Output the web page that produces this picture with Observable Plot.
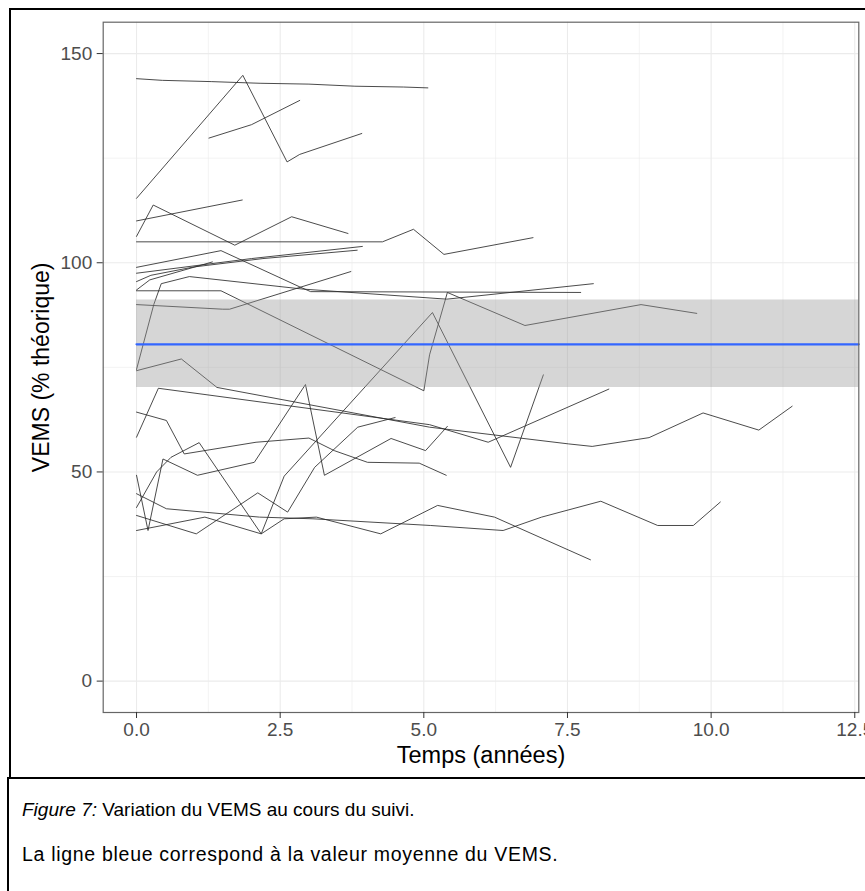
<!DOCTYPE html>
<html><head><meta charset="utf-8">
<script src="https://cdn.jsdelivr.net/npm/d3@7"></script>
<script src="https://cdn.jsdelivr.net/npm/@observablehq/plot@0.6"></script>
<style>
body{margin:0;background:#fff;font-family:"Liberation Sans",Arial,sans-serif;}
#page{position:relative;width:865px;height:891px;overflow:hidden;background:#fff;}
#chart{position:absolute;left:0;top:0;}
#frame{position:absolute;left:9px;top:8px;width:900px;height:769px;border:2px solid #000;pointer-events:none;}
#caption{position:absolute;left:7px;top:777px;width:900px;height:130px;border:2px solid #000;background:#fff;}
.cap{position:absolute;left:13px;font-size:19.5px;line-height:1;color:#000;white-space:nowrap;}
</style>
</head><body>
<div id="page">
  <div id="chart"></div>
  <div id="frame"></div>
  <div id="caption">
    <div class="cap" style="top:21px;font-size:19px"><i>Figure 7:</i> Variation du VEMS au cours du suivi.</div>
    <div class="cap" style="top:66px;letter-spacing:0.7px">La ligne bleue correspond à la valeur moyenne du VEMS.</div>
  </div>
</div>
<script>
// ---- data ----
const patientTimes = [
  [0,0.45,1.3,2.15,3,3.8,4.65,5.07],
  [0,1.85,2.62,2.84,3.92],
  [1.26,2.0,2.84],
  [0,1.84],
  [0,0.29,1.71,2.7,3.68],
  [0,4.28,4.82,5.35,6.9],
  [0,1.47,2.83,3.03,7.73],
  [0,2.0,3.93],
  [0,0.25,1.0,2.2,3.84],
  [0,0.23,1.32],
  [0,0.3,0.43,0.92,2.9,5.4,7.95],
  [0,1.5,1.62,3.73],
  [0,1.47,5.0,5.1,5.41,6.76,8.78,9.75],
  [0,0.78,1.4,5.1,7.52,7.93,8.92,9.86,10.83,11.41],
  [0,0.38,5.1,6.12,8.22],
  [0,0.52,0.83,2.08,3.0,3.44,4.02,4.92,5.39],
  [0,0.2,0.46,1.06,2.05,2.94,3.27,4.43,5.03,5.41],
  [0,0.35,0.6,1.09,2.17,2.57,5.15,6.51,7.08],
  [0,1.04,2.11,2.63,3.1,3.85,4.5],
  [0,0.52,2.14,3.07,5.12,6.38,7.05,8.08,9.07,9.69,10.16],
  [0,1.19,2.17,2.57,3.13,4.25,5.24,6.23,7.9]
];
const patientVems = [
  [144,143.6,143.3,142.9,142.7,142.2,142,141.8],
  [115.4,144.8,124.1,125.9,130.9],
  [129.8,133,138.8],
  [110,115],
  [106.3,113.8,104.2,111,107],
  [105,105,108,102,106],
  [98.9,102.9,94.3,93.1,92.9],
  [97.5,101,103.9],
  [95.5,97,99,101,103],
  [93.5,95.9,100.2],
  [74.5,90,95,96.7,93.7,91.3,95],
  [90,88.9,88.9,97.9],
  [93.3,93.3,69.4,78,92.9,85,90,87.9],
  [74.2,77,70.2,60.7,56.7,56.1,58.2,64.1,60,65.7],
  [58.3,70,61.3,57.1,69.8],
  [64.3,62.3,54.3,57.1,58.1,55.1,52.3,52.1,49.2],
  [49.2,36,53.1,49.2,52.3,70.9,49.2,58,55.1,60.9],
  [41.5,50,53.5,57,35.2,49,88.1,51.1,73.2],
  [39.6,35.2,45,40.4,51.1,60.7,63],
  [44.8,41.2,39.2,38.8,37.2,36,39.2,43,37.2,37.2,42.8],
  [36,39.2,35.2,38.8,39.2,35.2,42,39.2,29]
];
const meanTimes = [0, 12.57];
const meanVems = [80.5, 80.5];
const lowerVems = [70.2, 70.2];
const upperVems = [91.1, 91.1];
const xMajor = [0, 2.5, 5, 7.5, 10, 12.5];
const xMinor = [1.25, 3.75, 6.25, 8.75, 11.25];
const yMajor = [0, 50, 100, 150];
const yMinor = [25, 75, 125];

const rows = patientTimes.flatMap((ts, i) => ts.map((t, j) => ({id: i, t, v: patientVems[i][j]})));
const smooth = meanTimes.map((t, i) => ({t, m: meanVems[i], lo: lowerVems[i], hi: upperVems[i]}));

const chart = Plot.plot({
  width: 865,
  height: 780,
  marginLeft: 102.7,
  marginRight: 6.7,
  marginTop: 21.7,
  marginBottom: 68,
  style: {background: "transparent", overflow: "visible", fontFamily: "Liberation Sans, Arial, sans-serif"},
  x: {domain: [-0.58, 12.57]},
  y: {domain: [-7.5, 157.5]},
  marks: [
    Plot.ruleX(xMinor, {stroke: "#EBEBEB", strokeWidth: 0.6}),
    Plot.ruleY(yMinor, {stroke: "#EBEBEB", strokeWidth: 0.6}),
    Plot.ruleX(xMajor, {stroke: "#EBEBEB", strokeWidth: 1.1}),
    Plot.ruleY(yMajor, {stroke: "#EBEBEB", strokeWidth: 1.1}),
    Plot.line(rows, {x: "t", y: "v", z: "id", stroke: "#2b2b2b", strokeWidth: 1, strokeOpacity: 0.85}),
    Plot.areaY(smooth, {x: "t", y1: "lo", y2: "hi", fill: "#999999", fillOpacity: 0.4}),
    Plot.line(smooth, {x: "t", y: "m", stroke: "#3366FF", strokeWidth: 2.2}),
    Plot.frame({stroke: "#666", strokeWidth: 1.2}),
    Plot.axisX(xMajor, {tickFormat: d => d.toFixed(1), tickSize: 6, tickPadding: 4, fontSize: 19, fill: "#4D4D4D", stroke: "#333", label: null}),
    Plot.axisY(yMajor, {tickSize: 6, tickPadding: 5, fontSize: 19, fill: "#4D4D4D", stroke: "#333", label: null}),
    Plot.text(["Temps (années)"], {frameAnchor: "bottom", dy: 50, fontSize: 23.5, fill: "#000"}),
    Plot.text(["VEMS (% théorique)"], {frameAnchor: "left", textAnchor: "middle", rotate: -90, dx: -62, fontSize: 23, fill: "#000"})
  ]
});
document.getElementById("chart").appendChild(chart);
</script>
</body></html>
